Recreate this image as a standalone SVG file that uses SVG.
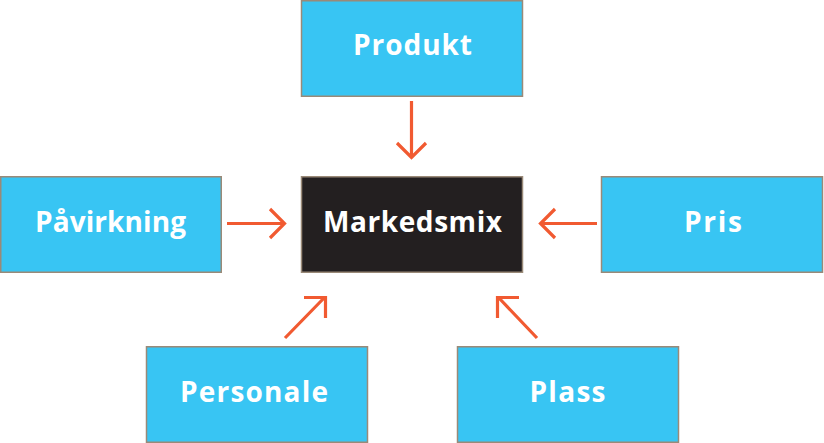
<svg xmlns="http://www.w3.org/2000/svg" width="824" height="443" viewBox="0 0 824 443">
<style>
.box{fill:#38c5f3;stroke:#9a8a78;stroke-width:1.5}
.dark{fill:#231f20;stroke:#9a8a78;stroke-width:1.5}
.lbl{font-family:"Open Sans","Lato",sans-serif;font-weight:bold;font-size:28px;fill:#ffffff;text-anchor:middle}
.arr{fill:none;stroke:#f15a31;stroke-width:3.2;stroke-linecap:butt}
</style>
<rect width="824" height="443" fill="#ffffff"/>
<g id="produkt"><rect class="box" x="301.5" y="0.75" width="221" height="95.5"/><text class="lbl" x="412.5" y="55" textLength="119" lengthAdjust="spacing">Produkt</text></g>
<g id="markedsmix"><rect class="dark" x="301.5" y="176.75" width="221" height="95.5"/><text class="lbl" x="412.5" y="231.5" textLength="179" lengthAdjust="spacing">Markedsmix</text></g>
<g id="pavirkning"><rect class="box" x="0.75" y="176.75" width="220.5" height="95.5"/><text class="lbl" x="110.5" y="231.5" textLength="151" lengthAdjust="spacing">Påvirkning</text></g>
<g id="pris"><rect class="box" x="601.5" y="176.75" width="221" height="95.5"/><text class="lbl" x="713" y="231.5" textLength="58" lengthAdjust="spacing">Pris</text></g>
<g id="personale"><rect class="box" x="146.5" y="346.75" width="221" height="95.5"/><text class="lbl" x="254" y="401.5" textLength="148" lengthAdjust="spacing">Personale</text></g>
<g id="plass"><rect class="box" x="457.5" y="346.75" width="221" height="95.5"/><text class="lbl" x="567.5" y="401.5" textLength="76" lengthAdjust="spacing">Plass</text></g>
<g id="connectors">
<path class="arr" d="M411.5 101V157M397 143L411.5 157.5L426 143"/>
<path class="arr" d="M227 223.5H285M270 209L284.5 223.5L270 238"/>
<path class="arr" d="M597 223.5H541M555 209L540.5 223.5L555 238"/>
<path class="arr" d="M285 338L324 298M304 297.5H325.5V318"/>
<path class="arr" d="M537 338L499 298M519 297.5H497.5V318"/>
</g>
</svg>
